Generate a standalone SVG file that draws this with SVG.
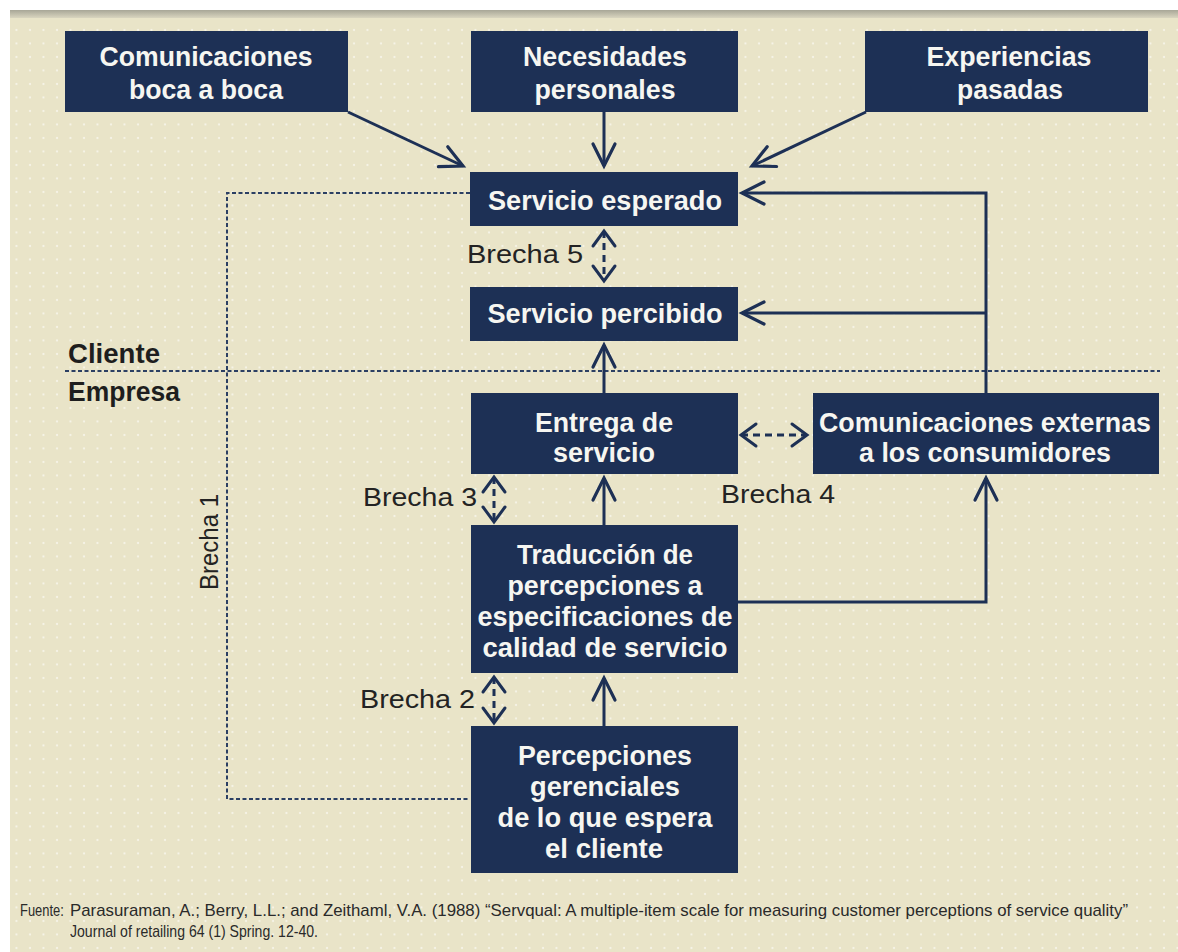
<svg xmlns="http://www.w3.org/2000/svg" width="1178" height="952" viewBox="0 0 1178 952">
<style>
.box{fill:#1d3055;}
.bt{font-family:"Liberation Sans",Arial,sans-serif;font-weight:bold;font-size:27px;fill:#f6f6f1;text-anchor:middle;}
.lb{font-family:"Liberation Sans",Arial,sans-serif;font-size:25px;fill:#232323;}
.side{font-family:"Liberation Sans",Arial,sans-serif;font-weight:bold;font-size:27px;fill:#1e1e1e;}
.foot{font-family:"Liberation Sans Narrow","Liberation Sans",Arial,sans-serif;font-size:17px;fill:#2a2a2a;}
.ar{fill:none;stroke:#1d3055;stroke-width:3;stroke-linejoin:miter;}
.dar{fill:none;stroke:#1d3055;stroke-width:3;stroke-dasharray:7 5;}
.dot{fill:none;stroke:#2b3f63;stroke-width:2;stroke-dasharray:4 2.5;}
</style>
<defs>
<pattern id="dots" width="13.5" height="13.5" patternUnits="userSpaceOnUse">
<circle cx="3" cy="3" r="1" fill="#ffffff" fill-opacity="0.7"/>
</pattern>
<linearGradient id="strip" x1="0" y1="0" x2="0" y2="1">
<stop offset="0" stop-color="#a8a697"/>
<stop offset="1" stop-color="#d9d5bf"/>
</linearGradient>
<marker id="ah" markerUnits="userSpaceOnUse" markerWidth="30" markerHeight="30" viewBox="0 0 30 30" refX="25" refY="15" orient="auto-start-reverse">
<path d="M3,4 L25,15 L3,26" fill="none" stroke="#1d3055" stroke-width="3.2" stroke-linecap="round" stroke-linejoin="miter"/>
</marker>
<marker id="sh" markerUnits="userSpaceOnUse" markerWidth="24" markerHeight="28" viewBox="0 0 24 28" refX="18" refY="14" orient="auto-start-reverse">
<path d="M3,3 L18,14 L3,25" fill="none" stroke="#1d3055" stroke-width="3" stroke-linecap="round" stroke-linejoin="miter"/>
</marker>
</defs>

<rect x="0" y="0" width="1178" height="952" fill="#ffffff"/>
<rect x="10" y="10" width="1168" height="942" fill="#e9e4c8"/>
<rect x="10" y="10" width="1168" height="942" fill="url(#dots)"/>
<rect x="10" y="10" width="1168" height="8" fill="url(#strip)"/>

<g id="connectors">
<line class="dot" x1="65" y1="371" x2="1160" y2="371"/>
<path class="dot" d="M470,193 H227 V799 H470" stroke-dasharray="3 2.5"/>
<line class="ar" x1="348" y1="112" x2="463" y2="166" marker-end="url(#ah)"/>
<line class="ar" x1="604" y1="112" x2="604" y2="166" marker-end="url(#ah)"/>
<line class="ar" x1="866" y1="112" x2="752" y2="166" marker-end="url(#ah)"/>
<path class="ar" d="M986,393 V193 H742" marker-end="url(#ah)"/>
<line class="ar" x1="986" y1="313" x2="742" y2="313" marker-end="url(#ah)"/>
<line class="ar" x1="604" y1="393" x2="604" y2="345" marker-end="url(#ah)"/>
<line class="ar" x1="604" y1="525" x2="604" y2="478" marker-end="url(#ah)"/>
<path class="ar" d="M738,602 H986 V478" marker-end="url(#ah)"/>
<line class="ar" x1="604" y1="726" x2="604" y2="678" marker-end="url(#ah)"/>
<line class="dar" x1="604" y1="231" x2="604" y2="281" marker-start="url(#sh)" marker-end="url(#sh)"/>
<line class="dar" x1="494" y1="477" x2="494" y2="522" marker-start="url(#sh)" marker-end="url(#sh)"/>
<line class="dar" x1="494" y1="677" x2="494" y2="723" marker-start="url(#sh)" marker-end="url(#sh)"/>
<line class="dar" x1="741" y1="435" x2="807" y2="435" marker-start="url(#sh)" marker-end="url(#sh)"/>
</g>

<g id="n-boca">
<rect class="box" x="65" y="31" width="283" height="81"/>
<text class="bt" x="206" y="66" textLength="213" lengthAdjust="spacingAndGlyphs">Comunicaciones</text>
<text class="bt" x="206" y="99" textLength="154" lengthAdjust="spacingAndGlyphs">boca a boca</text>
</g>
<g id="n-necesidades">
<rect class="box" x="471" y="31" width="267" height="81"/>
<text class="bt" x="605" y="66" textLength="164" lengthAdjust="spacingAndGlyphs">Necesidades</text>
<text class="bt" x="605" y="99" textLength="141" lengthAdjust="spacingAndGlyphs">personales</text>
</g>
<g id="n-experiencias">
<rect class="box" x="865" y="31" width="283" height="81"/>
<text class="bt" x="1009" y="66" textLength="165" lengthAdjust="spacingAndGlyphs">Experiencias</text>
<text class="bt" x="1010" y="99" textLength="106" lengthAdjust="spacingAndGlyphs">pasadas</text>
</g>
<g id="n-esperado">
<rect class="box" x="470" y="172" width="268" height="54"/>
<text class="bt" x="605" y="210" textLength="234" lengthAdjust="spacingAndGlyphs">Servicio esperado</text>
</g>
<g id="n-percibido">
<rect class="box" x="470" y="287" width="268" height="54"/>
<text class="bt" x="605" y="323" textLength="235" lengthAdjust="spacingAndGlyphs">Servicio percibido</text>
</g>
<g id="n-entrega">
<rect class="box" x="471" y="393" width="267" height="81"/>
<text class="bt" x="604" y="432" textLength="138" lengthAdjust="spacingAndGlyphs">Entrega de</text>
<text class="bt" x="604" y="462" textLength="102" lengthAdjust="spacingAndGlyphs">servicio</text>
</g>
<g id="n-externas">
<rect class="box" x="813" y="393" width="346" height="81"/>
<text class="bt" x="985" y="432" textLength="332" lengthAdjust="spacingAndGlyphs">Comunicaciones externas</text>
<text class="bt" x="985" y="462" textLength="252" lengthAdjust="spacingAndGlyphs">a los consumidores</text>
</g>
<g id="n-traduccion">
<rect class="box" x="471" y="525" width="267" height="148"/>
<text class="bt" x="605" y="564" textLength="176" lengthAdjust="spacingAndGlyphs">Traducción de</text>
<text class="bt" x="605" y="595" textLength="195" lengthAdjust="spacingAndGlyphs">percepciones a</text>
<text class="bt" x="605" y="626" textLength="255" lengthAdjust="spacingAndGlyphs">especificaciones de</text>
<text class="bt" x="605" y="657" textLength="245" lengthAdjust="spacingAndGlyphs">calidad de servicio</text>
</g>
<g id="n-percepciones">
<rect class="box" x="471" y="726" width="267" height="147"/>
<text class="bt" x="605" y="765" textLength="174" lengthAdjust="spacingAndGlyphs">Percepciones</text>
<text class="bt" x="605" y="796" textLength="150" lengthAdjust="spacingAndGlyphs">gerenciales</text>
<text class="bt" x="605" y="827" textLength="215" lengthAdjust="spacingAndGlyphs">de lo que espera</text>
<text class="bt" x="604" y="858" textLength="118" lengthAdjust="spacingAndGlyphs">el cliente</text>
</g>

<g id="labels">
<text class="side" x="68" y="363" textLength="92" lengthAdjust="spacingAndGlyphs">Cliente</text>
<text class="side" x="68" y="401" textLength="112" lengthAdjust="spacingAndGlyphs">Empresa</text>
<text class="lb" x="467" y="263" textLength="116" lengthAdjust="spacingAndGlyphs">Brecha 5</text>
<text class="lb" x="363" y="506" textLength="114" lengthAdjust="spacingAndGlyphs">Brecha 3</text>
<text class="lb" x="721" y="503" textLength="114" lengthAdjust="spacingAndGlyphs">Brecha 4</text>
<text class="lb" x="360" y="708" textLength="115" lengthAdjust="spacingAndGlyphs">Brecha 2</text>
<text class="lb" transform="translate(218,590) rotate(-90)" font-size="36" textLength="96" lengthAdjust="spacingAndGlyphs">Brecha 1</text>
</g>

<g id="footer">
<text class="foot" transform="translate(20,916) scale(0.76,1)">Fuente:</text>
<text class="foot" x="70" y="916" textLength="1058" lengthAdjust="spacingAndGlyphs">Parasuraman, A.; Berry, L.L.; and Zeithaml, V.A. (1988) “Servqual: A multiple-item scale for measuring customer perceptions of service quality”</text>
<text class="foot" x="70" y="937" textLength="248" lengthAdjust="spacingAndGlyphs">Journal of retailing 64 (1) Spring. 12-40.</text>
</g>
</svg>
